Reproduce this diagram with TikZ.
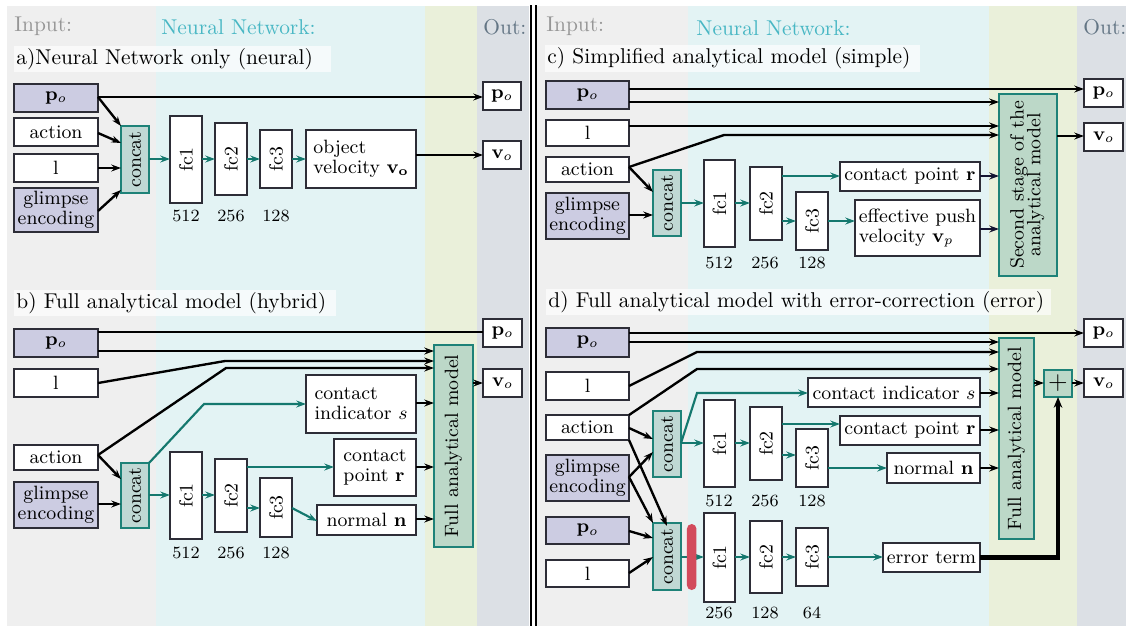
\documentclass[tikz,border=0pt]{standalone}
\usetikzlibrary{arrows.meta}
\definecolor{bgin}{RGB}{239,239,239}
\definecolor{bgnn}{RGB}{227,243,244}
\definecolor{bgam}{RGB}{234,240,218}
\definecolor{bgout}{RGB}{220,224,229}
\definecolor{txin}{RGB}{150,150,150}
\definecolor{txnn}{RGB}{72,183,196}
\definecolor{txout}{RGB}{100,118,133}
\definecolor{lav}{RGB}{204,204,226}
\definecolor{bord}{RGB}{45,45,55}
\definecolor{catfill}{RGB}{192,216,212}
\definecolor{tealb}{RGB}{30,130,120}
\definecolor{famfill}{RGB}{188,216,200}
\definecolor{tealarr}{RGB}{20,120,110}
\definecolor{navyarr}{RGB}{20,20,50}
\definecolor{redbar}{RGB}{210,75,92}
\newcommand\mybox[7][]{\node[box,#1,minimum width={(#5-#3)*0.467pt},minimum height={(#6-#4)*0.467pt}] (#2) at ({(#3+#5)/2},{(#4+#6)/2}) {#7};}
\newcommand\rot[1]{\rotatebox{90}{#1}}
\tikzset{
  box/.style={draw=bord, line width=0.6pt, fill=white, inner sep=0pt, outer sep=0pt, font=\linespread{0.85}\small, align=center},
  inp/.style={fill=lav},
  cat/.style={fill=catfill, draw=tealb},
  fam/.style={fill=famfill, draw=tealb},
  arr/.style={-{Stealth[length=4.5pt,width=3.2pt]}, line width=1.1pt, black},
  narr/.style={-{Stealth[length=4.5pt,width=3.2pt]}, line width=1.1pt, navyarr},
  tarr/.style={-{Stealth[length=4.5pt,width=3.2pt]}, line width=1pt, tealarr},
  lab/.style={font=\footnotesize, inner sep=0pt},
  head/.style={font=\normalsize, anchor=west, inner sep=0pt},
  ttl/.style={font=\normalsize, anchor=west, inner sep=0pt},
  ttlbg/.style={fill=white, fill opacity=0.65, draw=none},
}
\begin{document}
\begin{tikzpicture}[x=0.467pt,y=-0.467pt]
\useasboundingbox (0,0) rectangle (1126,626);
% backgrounds left
\fill[bgin] (7,6) rectangle (156,626);
\fill[bgnn] (156,6) rectangle (425,626);
\fill[bgam] (425,6) rectangle (477,626);
\fill[bgout] (477,6) rectangle (529,626);
% backgrounds right
\fill[bgin] (537,6) rectangle (688,626);
\fill[bgnn] (688,6) rectangle (989,626);
\fill[bgam] (989,6) rectangle (1077,626);
\fill[bgout] (1077,6) rectangle (1126,626);
% separator
\draw[line width=0.9pt] (531,5) -- (531,626);
\draw[line width=0.9pt] (536,5) -- (536,626);
% headers
\node[head, text=txin] (hin1) at (14,26) {Input:};
\node[head, text=txnn] (hnn1) at (161,27) {Neural Network:};
\node[head, text=txout] (hout1) at (483,27) {Out:};
\node[head, text=txin] (hin2) at (546,26) {Input:};
\node[head, text=txnn] (hnn2) at (696,28) {Neural Network:};
\node[head, text=txout] (hout2) at (1083,27) {Out:};
% titles
\fill[ttlbg] (14,46) rectangle (331,72);
\node[ttl] (ta) at (16,59) {a)Neural Network only (neural)};
\fill[ttlbg] (14,290) rectangle (336,316);
\node[ttl] (tb) at (16,303) {b) Full analytical model (hybrid)};
\fill[ttlbg] (545,45) rectangle (920,72);
\node[ttl] (tc) at (547,58) {c) Simplified analytical model (simple)};
\fill[ttlbg] (546,289) rectangle (1051,315);
\node[ttl] (td) at (548,302) {d) Full analytical model with error-correction (error)};

% ---------------- panel a
\mybox[inp]{apo}{14}{84}{98}{112}{$\mathbf{p}_o$}
\mybox{aact}{14}{118}{98}{146}{action}
\mybox{al}{14}{154}{98}{182}{l}
\mybox[inp]{agl}{14}{188}{98}{232}{glimpse\\encoding}
\mybox[cat]{acat}{121}{126}{149}{193}{\rot{concat}}
\mybox{afc1}{170}{116}{202}{203}{\rot{fc1}}
\mybox{afc2}{215}{123}{247}{195}{\rot{fc2}}
\mybox{afc3}{260}{130}{292}{188}{\rot{fc3}}
\mybox[align=left]{aov}{306}{130}{416}{188}{object\\velocity $\mathbf{v_o}$}
\mybox{aopo}{483}{82}{521}{110}{$\mathbf{p}_o$}
\mybox{aovo}{483}{141}{521}{169}{$\mathbf{v}_o$}
\node[lab] (a1) at (186,216) {512};
\node[lab] (a2) at (231,216) {256};
\node[lab] (a3) at (276,216) {128};
\draw[arr] (apo.east |- 0,97) -- (aopo.west |- 0,97);
\draw[arr] (apo.east |- 0,97) -- (acat.north west);
\draw[arr] (aact.east |- 0,133) -- (acat.west |- 0,143);
\draw[arr] (al.east) -- (acat.west |- 0,168);
\draw[arr] (agl.east |- 0,211) -- (acat.west |- 0,190);
\draw[tarr] (acat.east |- 0,159) -- (afc1.west |- 0,159);
\draw[tarr] (afc1.east |- 0,159) -- (afc2.west |- 0,159);
\draw[tarr] (afc2.east |- 0,159) -- (afc3.west |- 0,159);
\draw[tarr] (afc3.east |- 0,159) -- (aov.west |- 0,159);
\draw[arr] (aov.east |- 0,155) -- (aovo.west |- 0,155);

% ---------------- panel b
\mybox[inp]{bpo}{14}{329}{98}{357}{$\mathbf{p}_o$}
\mybox{bl}{14}{369}{98}{397}{l}
\mybox{bact}{14}{445}{98}{470}{action}
\mybox[inp]{bgl}{14}{482}{98}{528}{glimpse\\encoding}
\mybox[cat]{bcat}{121}{463}{149}{528}{\rot{concat}}
\mybox{bfc1}{170}{452}{202}{539}{\rot{fc1}}
\mybox{bfc2}{215}{459}{247}{532}{\rot{fc2}}
\mybox{bfc3}{260}{478}{292}{537}{\rot{fc3}}
\mybox[align=left]{bci}{306}{375}{416}{433}{contact\\indicator $s$}
\mybox[align=left]{bcp}{334}{439}{416}{496}{contact\\point $\mathbf{r}$}
\mybox{bn}{317}{505}{416}{535}{normal $\mathbf{n}$}
\mybox[fam]{bfam}{434}{345}{473}{547}{\rot{Full analytical model}}
\mybox{bopo}{483}{319}{522}{347}{$\mathbf{p}_o$}
\mybox{bovo}{483}{369}{522}{397}{$\mathbf{v}_o$}
\node[lab] (b1) at (186,553) {512};
\node[lab] (b2) at (231,553) {256};
\node[lab] (b3) at (276,553) {128};
\draw[line width=1.1pt] (bpo.east |- 0,332) -- (bopo.west |- 0,332);
\draw[arr] (bpo.east |- 0,351) -- (bfam.west |- 0,351);
\draw[arr] (bl.east) -- (225,361) -- (bfam.west |- 0,361);
\draw[arr] (bact.east |- 0,455) -- (226,368) -- (bfam.west |- 0,368);
\draw[arr] (bact.east |- 0,455) -- (bcat.west |- 0,479);
\draw[arr] (bgl.east |- 0,504) -- (bcat.west |- 0,504);
\draw[tarr] (bcat.north east) -- (204,404) -- (bci.west |- 0,404);
\draw[tarr] (bcat.east |- 0,495) -- (bfc1.west |- 0,495);
\draw[tarr] (bfc1.east |- 0,495) -- (bfc2.west |- 0,495);
\draw[tarr] (bfc2.east |- 0,467) -- (bcp.west |- 0,467);
\draw[tarr] (bfc2.east |- 0,508) -- (bfc3.west |- 0,508);
\draw[tarr] (bfc3.east |- 0,508) -- (bn.west |- 0,521);
\draw[arr] (bci.east |- 0,403) -- (bfam.west |- 0,403);
\draw[arr] (bcp.east |- 0,467) -- (bfam.west |- 0,467);
\draw[arr] (bn.east |- 0,519) -- (bfam.west |- 0,519);
\draw[arr] (bfam.east |- 0,383) -- (bovo.west |- 0,383);

% ---------------- panel c
\mybox[inp]{cpo}{546}{81}{629}{109}{$\mathbf{p}_o$}
\mybox{cl}{546}{120}{629}{146}{l}
\mybox{cact}{546}{157}{629}{182}{action}
\mybox[inp]{cgl}{546}{193}{629}{239}{glimpse\\encoding}
\mybox[cat]{ccat}{653}{170}{681}{236}{\rot{concat}}
\mybox{cfc1}{704}{160}{735}{247}{\rot{fc1}}
\mybox{cfc2}{750}{167}{782}{240}{\rot{fc2}}
\mybox{cfc3}{796}{192}{828}{250}{\rot{fc3}}
\mybox{ccp}{840}{162}{980}{191}{contact point $\mathbf{r}$}
\mybox[align=left]{cep}{855}{200}{980}{256}{effective push\\velocity $\mathbf{v}_p$}
\mybox[fam]{css}{999}{94}{1057}{276}{\rot{\begin{tabular}{@{}c@{}}Second stage of the\\[-1.5pt]analytical model\end{tabular}}}
\mybox{copo}{1084}{79}{1123}{107}{$\mathbf{p}_o$}
\mybox{covo}{1084}{123}{1123}{151}{$\mathbf{v}_o$}
\node[lab] (c1) at (719,263) {512};
\node[lab] (c2) at (765,263) {256};
\node[lab] (c3) at (812,263) {128};
\draw[arr] (cpo.east |- 0,89) -- (copo.west |- 0,89);
\draw[arr] (cpo.east |- 0,102) -- (css.west |- 0,102);
\draw[arr] (cl.east |- 0,126) -- (css.west |- 0,126);
\draw[arr] (cact.east |- 0,167) -- (724,135) -- (css.west |- 0,135);
\draw[arr] (cact.east |- 0,167) -- (ccat.west |- 0,192);
\draw[arr] (cgl.east |- 0,215) -- (ccat.west |- 0,215);
\draw[tarr] (ccat.east |- 0,203) -- (cfc1.west |- 0,203);
\draw[tarr] (cfc1.east |- 0,203) -- (cfc2.west |- 0,203);
\draw[tarr] (cfc2.east |- 0,176) -- (ccp.west |- 0,176);
\draw[tarr] (cfc2.east |- 0,221) -- (cfc3.west |- 0,221);
\draw[tarr] (cfc3.east |- 0,221) -- (cep.west |- 0,221);
\draw[narr] (ccp.east |- 0,176) -- (css.west |- 0,176);
\draw[narr] (cep.east |- 0,229) -- (css.west |- 0,229);
\draw[arr] (css.east |- 0,136) -- (covo.west |- 0,136);

% ---------------- panel d
\mybox[inp]{dpo}{546}{328}{629}{357}{$\mathbf{p}_o$}
\mybox{dl}{546}{372}{629}{400}{l}
\mybox{dact}{546}{415}{629}{440}{action}
\mybox[inp]{dgl}{546}{455}{629}{501}{glimpse\\encoding}
\mybox[inp]{dpoo}{546}{517}{629}{544}{$\mathbf{p}_o$}
\mybox{dll}{546}{560}{629}{587}{l}
\mybox[cat]{dcat}{653}{411}{681}{477}{\rot{concat}}
\mybox[cat]{ecat}{653}{523}{681}{590}{\rot{concat}}
\mybox{dfc1}{704}{400}{735}{487}{\rot{fc1}}
\mybox{dfc2}{750}{407}{782}{480}{\rot{fc2}}
\mybox{dfc3}{796}{429}{828}{487}{\rot{fc3}}
\mybox{dci}{808}{378}{980}{407}{contact indicator $s$}
\mybox{dcp}{840}{416}{980}{445}{contact point $\mathbf{r}$}
\mybox{dn}{887}{453}{980}{483}{normal $\mathbf{n}$}
\mybox[fam]{dfam}{999}{338}{1034}{539}{\rot{Full analytical model}}
\mybox[fam]{dplus}{1044}{370}{1072}{397}{\large$+$}
\mybox{dopo}{1084}{319}{1123}{347}{$\mathbf{p}_o$}
\mybox{dovo}{1084}{369}{1123}{397}{$\mathbf{v}_o$}
\mybox{efc1}{704}{513}{735}{602}{\rot{fc1}}
\mybox{efc2}{750}{521}{782}{593}{\rot{fc2}}
\mybox{efc3}{796}{528}{828}{586}{\rot{fc3}}
\mybox{det}{883}{543}{980}{572}{error term}
\node[lab] (d1) at (719,501) {512};
\node[lab] (d2) at (765,501) {256};
\node[lab] (d3) at (812,501) {128};
\node[lab] (e1) at (719,613) {256};
\node[lab] (e2) at (765,613) {128};
\node[lab] (e3) at (812,613) {64};
\draw[arr] (dpo.east |- 0,333) -- (dopo.west |- 0,333);
\draw[arr] (dpo.east |- 0,342) -- (dfam.west |- 0,342);
\draw[arr] (dl.east |- 0,386) -- (697,352) -- (dfam.west |- 0,352);
\draw[arr] (dact.north east) -- (697,369) -- (dfam.west |- 0,369);
\draw[arr] (dact.east |- 0,428) -- (dcat.west |- 0,439);
\draw[arr] (dact.south east) -- (ecat.north |- 0,526);
\draw[arr] (dgl.east |- 0,477) -- (dcat.west |- 0,452);
\draw[arr] (dgl.east |- 0,477) -- (ecat.north west);
\draw[arr] (dpoo.east |- 0,531) -- (ecat.west |- 0,538);
\draw[arr] (dll.east |- 0,573) -- (ecat.west |- 0,557);
\draw[tarr] (dcat.east |- 0,443) -- (dfc1.west |- 0,443);
\draw[tarr] (dcat.east |- 0,443) -- (697,393) -- (dci.west |- 0,393);
\draw[tarr] (dfc1.east |- 0,443) -- (dfc2.west |- 0,443);
\draw[tarr] (dfc2.east |- 0,424) -- (dcp.west |- 0,424);
\draw[tarr] (dfc2.east |- 0,455) -- (dfc3.west |- 0,455);
\draw[tarr] (dfc3.east |- 0,468) -- (dn.west |- 0,468);
\draw[arr] (dci.east |- 0,393) -- (dfam.west |- 0,393);
\draw[arr] (dcp.east |- 0,430) -- (dfam.west |- 0,430);
\draw[arr] (dn.east |- 0,468) -- (dfam.west |- 0,468);
\draw[arr] (dfam.east |- 0,383) -- (dplus.west |- 0,383);
\draw[arr] (dplus.east |- 0,383) -- (dovo.west |- 0,383);
\draw[tarr] (ecat.east |- 0,557) -- (efc1.west |- 0,557);
\node[fill=redbar, rounded corners=2.2pt, inner sep=0pt, minimum width={9.5*0.467pt}, minimum height={66*0.467pt}] (rbar) at (691.7,557) {};
\draw[tarr] (efc1.east |- 0,557) -- (efc2.west |- 0,557);
\draw[tarr] (efc2.east |- 0,557) -- (efc3.west |- 0,557);
\draw[tarr] (efc3.east |- 0,557) -- (det.west |- 0,557);
\draw[-{Stealth[length=5pt,width=4pt]}, line width=1.9pt] (det.east) -| (dplus.south);
\end{tikzpicture}
\end{document}
